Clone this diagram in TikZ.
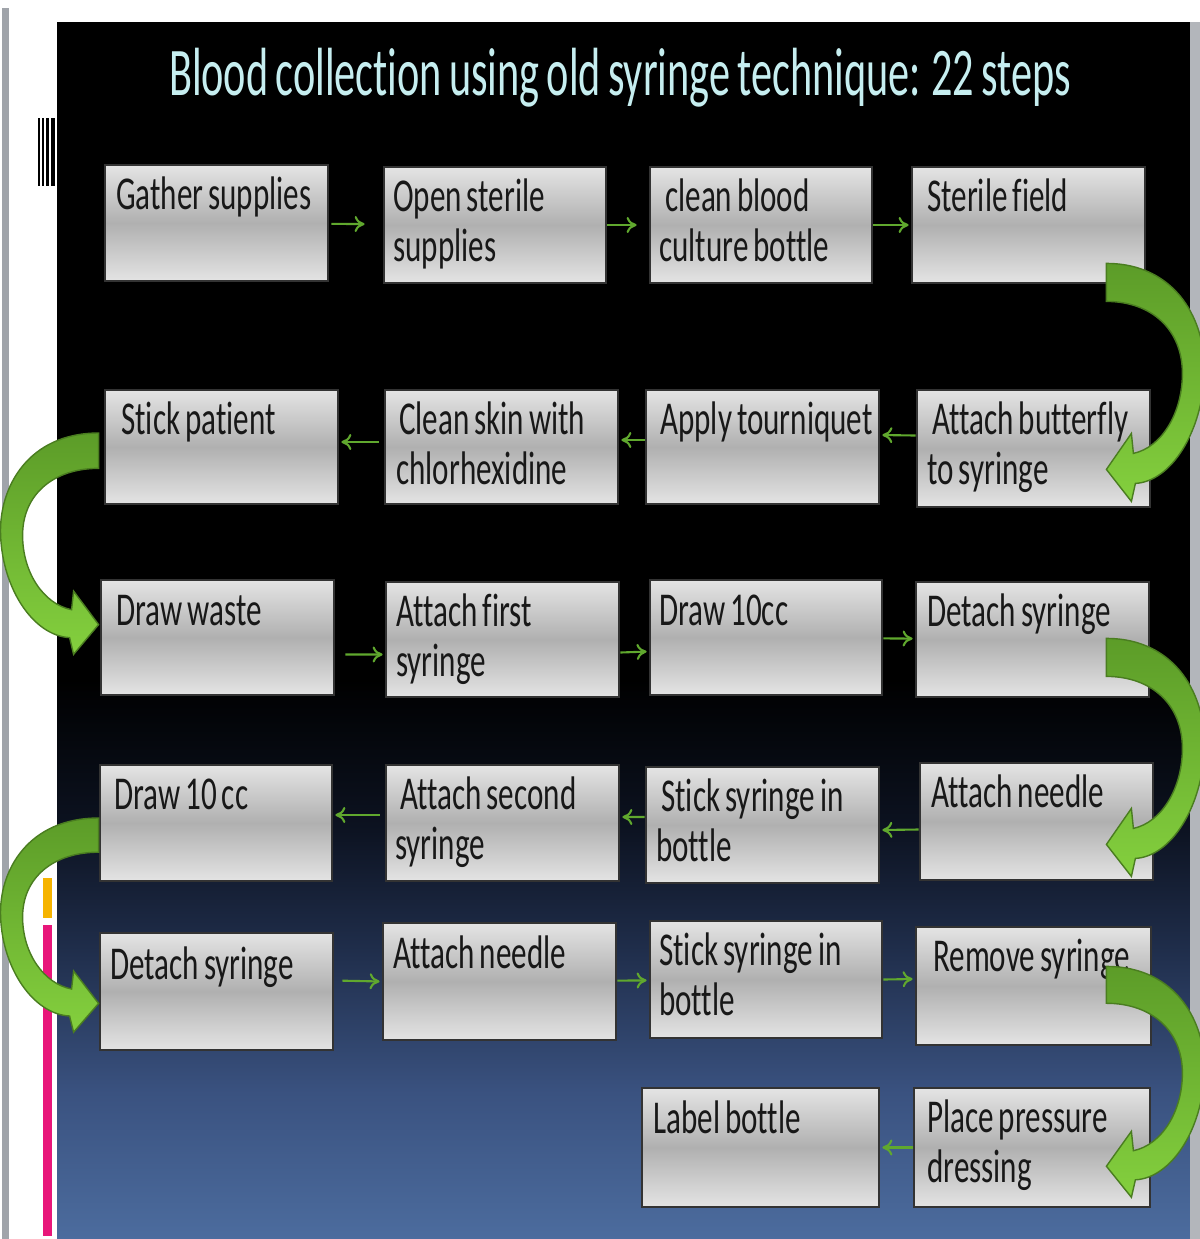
\documentclass[tikz,border=0pt]{standalone}
\usepackage{fontspec}
\usetikzlibrary{arrows.meta}
\newfontfamily\titlefont{Carlito}[FakeStretch=0.62,WordSpace=0.75,Ligatures=NoCommon]
\newfontfamily\stepfont{Carlito}[FakeStretch=0.66,WordSpace=0.7,Ligatures=NoCommon]
\definecolor{titlecyan}{RGB}{198,238,240}
\definecolor{boxlight}{RGB}{228,228,228}
\definecolor{boxdark}{RGB}{176,176,176}
\definecolor{stepink}{RGB}{24,24,24}
\definecolor{flowgreen}{RGB}{96,168,46}
\definecolor{bandtop}{RGB}{92,156,40}
\definecolor{bandbot}{RGB}{132,208,62}
\definecolor{bgbot}{RGB}{76,108,158}
\definecolor{bgup}{RGB}{58,82,128}
\definecolor{bgmid}{RGB}{31,45,74}
\definecolor{bgdeep}{RGB}{12,18,32}
\definecolor{sidegray}{RGB}{160,164,170}
\definecolor{sideyellow}{RGB}{246,180,0}
\definecolor{sidepink}{RGB}{232,22,122}
\pgfdeclareverticalshading{slidebg}{100bp}{color(0bp)=(bgbot); color(25bp)=(bgbot);
  color(31bp)=(bgup); color(37bp)=(bgmid); color(42bp)=(bgdeep); color(48bp)=(black);
  color(100bp)=(black)}
\tikzset{
  stepbox/.style={draw=black!80, line width=0.8pt, top color=boxlight, bottom color=boxlight,
    middle color=boxdark, minimum width=23.3mm, minimum height=11.6mm, inner sep=0pt},
  steptext/.style={anchor=base west, inner sep=0pt, text width=22mm, align=flush left,
    font=\stepfont\fontsize{13.4}{14.2}\selectfont, text=stepink},
  flow/.style={draw=flowgreen, line width=0.6pt, -{To[length=1mm,width=1.6mm]},
    shorten >=0.2mm},
  bigarc/.pic={
    \path[draw=bandtop!80!black, line width=0.4pt, top color=bandtop, bottom color=bandbot]
      (0,0) .. controls (70,0) and (100,58) .. (98,110)
      .. controls (96,168) and (65,218) .. (29,220)
      -- (25,238) -- (0,206) -- (25,170) -- (27,190)
      .. controls (55,184) and (76,150) .. (76,110)
      .. controls (76,66) and (45,38) .. (0,38) -- cycle;
  }
}
\begin{document}
\begin{tikzpicture}[x=0.1mm,y=-0.1mm]
\useasboundingbox (0,0) rectangle (1200,1239);
% screen around the slide
\fill[white] (0,0) rectangle (1200,1239);
\fill[sidegray] (2,8) rectangle (9,1239);
\fill[black] (38,118) rectangle (40,186);
\fill[black] (42,118) rectangle (44,186);
\fill[black] (46,118) rectangle (49,186);
\fill[black] (51,118) rectangle (55,186);
\fill[sideyellow] (43,878) rectangle (52,918);
\fill[sidepink] (43,925) rectangle (52,1236);
\path[shading=slidebg] (57,22) rectangle (1190,1239);
\fill[sidegray!80!white] (1190,22) rectangle (1200,1239);

\node[font=\titlefont\fontsize{19.4}{22}\selectfont, text=titlecyan, anchor=base, inner sep=0pt]
  (title) at (620,95) {Blood collection using old syringe technique: 22 steps};

% row 1
\node[stepbox, minimum width=22.3mm] (b1) at (216.5,223) {};
\node[steptext] (t1) at ([shift={(12,46)}]b1.north west) {Gather supplies};
\node[stepbox, minimum width=22.2mm] (b2) at (495,225) {};
\node[steptext] (t2) at ([shift={(10,46)}]b2.north west) {Open sterile\\supplies};
\node[stepbox, minimum width=22.2mm] (b3) at (761,225) {};
\node[steptext] (t3) at ([shift={(10,46)}]b3.north west) {\hspace*{0.6mm}clean blood\\culture bottle};
\node[stepbox] (b4) at (1028.5,225) {};
\node[steptext] (t4) at ([shift={(16,46)}]b4.north west) {Sterile field};
% row 2
\node[stepbox, minimum height=11.4mm] (b5) at (221.5,447) {};
\node[steptext] (t5) at ([shift={(17,46)}]b5.north west) {Stick patient};
\node[stepbox, minimum height=11.4mm] (b6) at (501.5,447) {};
\node[steptext] (t6) at ([shift={(12,46)}]b6.north west) {\hspace*{0.3mm}Clean skin with\\chlorhexidine};
\node[stepbox, minimum height=11.4mm] (b7) at (762.5,447) {};
\node[steptext] (t7) at ([shift={(15,46)}]b7.north west) {Apply tourniquet};
\node[stepbox, minimum height=11.7mm] (b8) at (1033.5,448.5) {};
\node[steptext] (t8) at ([shift={(11,46)}]b8.north west) {\hspace*{0.5mm}Attach butterfly\\to syringe};
% row 3
\node[stepbox, minimum height=11.5mm] (b9) at (217.5,637.5) {};
\node[steptext] (t9) at ([shift={(16,47)}]b9.north west) {Draw waste};
\node[stepbox, minimum height=11.5mm] (b10) at (502.5,639.5) {};
\node[steptext] (t10) at ([shift={(11,46)}]b10.north west) {Attach first\\syringe};
\node[stepbox, minimum width=23.2mm, minimum height=11.5mm] (b11) at (766,637.5) {};
\node[steptext] (t11) at ([shift={(10,47)}]b11.north west) {Draw 10cc};
\node[stepbox, minimum height=11.5mm] (b12) at (1032.5,639.5) {};
\node[steptext] (t12) at ([shift={(12,46)}]b12.north west) {Detach syringe};
% row 4
\node[stepbox, minimum width=23.2mm] (b13) at (216,823) {};
\node[steptext] (t13) at ([shift={(15,46)}]b13.north west) {Draw 10 cc};
\node[stepbox] (b14) at (502.5,823) {};
\node[steptext] (t14) at ([shift={(10,46)}]b14.north west) {\hspace*{0.5mm}Attach second\\syringe};
\node[stepbox] (b15) at (762.5,825) {};
\node[steptext] (t15) at ([shift={(11,46)}]b15.north west) {\hspace*{0.5mm}Stick syringe in\\bottle};
\node[stepbox, minimum height=11.7mm] (b16) at (1036.5,821.5) {};
\node[steptext] (t16) at ([shift={(12,46)}]b16.north west) {Attach needle};
% row 5
\node[stepbox, minimum height=11.7mm] (b17) at (216.5,991.5) {};
\node[steptext] (t17) at ([shift={(11,48)}]b17.north west) {Detach syringe};
\node[stepbox, minimum height=11.7mm] (b18) at (499.5,981.5) {};
\node[steptext] (t18) at ([shift={(11,47)}]b18.north west) {Attach needle};
\node[stepbox, minimum width=23.2mm, minimum height=11.7mm] (b19) at (766,979.5) {};
\node[steptext] (t19) at ([shift={(10,46)}]b19.north west) {Stick syringe in\\bottle};
\node[stepbox, minimum width=23.5mm, minimum height=11.8mm] (b20) at (1033.5,986) {};
\node[steptext] (t20) at ([shift={(18,46)}]b20.north west) {Remove syringe};
% row 6
\node[stepbox, minimum width=23.7mm, minimum height=11.9mm] (b21) at (760.5,1147.5) {};
\node[steptext] (t21) at ([shift={(12,47)}]b21.north west) {Label bottle};
\node[stepbox, minimum width=23.6mm, minimum height=11.9mm] (b22) at (1032,1147.5) {};
\node[steptext] (t22) at ([shift={(14,46)}]b22.north west) {Place pressure\\dressing};

% small arrows
\draw[flow, shorten >=1.8mm, shorten <=0.2mm] (b1) -- (b2);
\draw[flow, shorten >=1.2mm] (b2) -- (b3);
\draw[flow] (b3) -- (b4);
\draw[flow] ([yshift=1.3mm]b8.west) -- ([yshift=1.2mm]b7.east);
\draw[flow] ([yshift=0.7mm]b7.west) -- ([yshift=0.7mm]b6.east);
\draw[flow, shorten <=0.5mm] ([yshift=0.5mm]b6.west) -- ([yshift=0.5mm]b5.east);
\draw[flow, shorten <=1mm] ([yshift=-1.7mm]b9.east) -- ([yshift=-1.5mm]b10.west);
\draw[flow] ([yshift=-1.3mm]b10.east) -- ([yshift=-1.4mm]b11.west);
\draw[flow] (b11) -- (b12);
\draw[flow] ([yshift=-0.8mm]b16.west) -- ([yshift=-0.5mm]b15.east);
\draw[flow] ([yshift=0.8mm]b15.west) -- ([yshift=0.6mm]b14.east);
\draw[flow, shorten <=0.5mm] ([yshift=0.8mm]b14.west) -- ([yshift=0.8mm]b13.east);
\draw[flow, shorten <=0.8mm] ([yshift=1.1mm]b17.east) -- (b18.west);
\draw[flow] (b18) -- (b19);
\draw[flow] (b19.east) -- ([yshift=0.7mm]b20.west);
\draw[flow] (b22) -- (b21);

% big curved arrows
\pic at ([shift={(-40,-21)}]b4.south east) {bigarc};
\pic[xscale=-1, yscale=0.93] at ([shift={(-5,-14)}]b5.west) {bigarc};
\pic at ([shift={(-44,-60)}]b12.south east) {bigarc};
\pic[xscale=-1, yscale=0.9] at ([shift={(0,-5)}]b13.west) {bigarc};
\pic[yscale=0.97] at ([shift={(-46,-80)}]b20.south east) {bigarc};
\end{tikzpicture}
\end{document}
